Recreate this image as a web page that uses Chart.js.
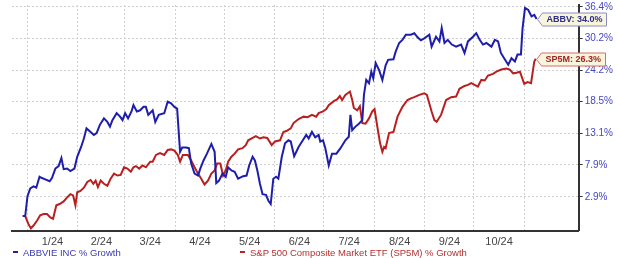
<!DOCTYPE html>
<html><head><meta charset="utf-8">
<script src="https://cdn.jsdelivr.net/npm/chart.js@4.4.1/dist/chart.umd.min.js"></script>
<style>
html,body{margin:0;padding:0;background:#fff;}
#wrap{position:relative;width:620px;height:258px;overflow:hidden;}
#legend{position:absolute;left:0;top:247px;width:620px;height:12px;font:9.5px "Liberation Sans",Arial,sans-serif;line-height:12px;}
.li{position:absolute;top:0;white-space:nowrap;}
.dash{display:inline-block;width:5px;height:2px;vertical-align:middle;margin-right:5px;position:relative;top:-1px;}
</style></head><body>
<div id="wrap"><canvas id="c" width="620" height="258"></canvas>
<div id="legend">
 <div class="li" style="left:13px;color:#3a3ab4"><span class="dash" style="background:#2020aa"></span>ABBVIE INC % Growth</div>
 <div class="li" style="left:240px;color:#b43030"><span class="dash" style="background:#bb2222"></span>S&amp;P 500 Composite Market ETF (SP5M) % Growth</div>
</div></div>
<script>
// x values: days since 2024-01-01 ; y values: % growth since start
const abbvDays = [-2.7,-1.2,0.2,1.9,3.9,5.6,7.6,9.1,11.1,13.8,15.2,17.3,19.3,21.0,22.4,24.5,26.5,29.0,30.7,33.1,34.8,36.4,38.9,40.9,42.6,44.6,47.1,49.2,50.8,52.3,54.9,57.0,58.5,60.1,61.9,64.0,65.2,67.3,69.3,71.4,72.8,74.3,77.0,78.6,80.7,84.1,86.2,88.3,90.3,92.0,93.8,95.1,97.5,99.2,100.6,102.7,104.8,106.2,108.2,110.3,113.0,115.0,116.0,117.7,119.8,121.8,123.3,125.3,127.3,129.4,132.5,134.6,136.2,138.3,139.7,141.2,142.8,144.4,146.5,148.0,149.4,151.0,152.7,154.1,156.2,158.2,160.3,161.7,163.8,166.5,169.1,171.2,172.7,174.7,176.7,178.8,179.8,181.5,182.9,185.0,187.0,189.7,192.2,195.2,197.3,198.3,199.4,201.4,203.5,205.6,206.6,208.0,209.7,211.1,212.3,213.8,215.9,217.9,219.9,221.4,224.7,226.1,228.2,230.2,232.3,235.4,237.5,239.5,241.5,243.6,246.7,248.1,250.8,252.9,254.3,256.0,258.0,260.5,263.1,266.2,268.3,270.4,273.5,275.5,277.6,279.6,281.7,284.8,286.9,288.9,290.6,292.6,295.1,297.1,299.2,300.8,302.9,303.9,305.4,307.4,309.4,311.1,312.5];
const abbvGrowth = [0,0,3.0,4.2,4.5,4.3,6.0,5.8,5.6,5.3,5.8,7.3,7.7,9.0,7.2,7.3,6.9,7.3,9.2,10.8,12.2,13.9,13.3,12.8,13.1,14.5,15.6,15.0,14.2,15.3,16.5,15.9,15.3,16.5,15.6,16.8,17.9,16.8,17.0,17.6,17.6,16.2,17.0,15.0,16.2,16.5,18.5,18.2,17.6,17.3,10.0,10.7,10.7,10.6,8.1,6.5,6.2,7.3,8.6,9.7,11.3,10.0,5.0,5.4,6.5,6.0,7.5,7.0,6.8,5.7,6.1,6.2,7.8,9.2,8.6,7.0,4.9,3.3,3.2,2.3,1.8,5.7,6.0,5.7,9.2,11.4,11.9,11.7,9.3,10.8,11.9,12.8,12.2,13.3,12.4,12.8,11.7,11.9,10.6,7.8,9.7,9.7,10.6,11.9,12.5,16.2,13.6,14.2,14.7,15.3,19.7,22.4,21.8,23.9,22.7,25.5,24.2,22.4,25.1,26.1,26.2,27.7,29.3,29.9,30.9,30.9,31.2,30.4,29.8,30.2,30.9,28.6,30.5,29.6,32.2,29.3,29.9,29.0,28.6,29.0,27.4,29.6,30.5,31.2,29.9,29.0,29.3,28.6,29.9,29.6,27.4,26.4,25.2,26.4,25.8,27.1,27.1,32.2,36.2,35.8,34.5,34.8,34.0];
const sp5mDays = [-2.7,-1.2,0.8,2.3,3.9,6.0,8.0,10.1,12.2,14.2,15.9,17.9,19.9,22.4,24.5,26.5,28.2,29.6,30.7,32.7,34.8,36.9,38.9,40.6,42.0,43.4,45.1,47.1,49.2,51.2,53.3,55.4,57.4,59.4,61.5,63.6,65.2,66.7,68.7,70.8,72.8,75.5,77.0,79.0,81.5,84.1,86.2,88.3,90.3,92.4,93.8,95.5,98.6,100.6,102.7,104.8,106.8,108.8,110.9,113.0,115.0,116.5,118.5,120.2,121.8,123.3,125.3,127.3,129.4,132.1,134.1,135.6,138.3,140.3,142.8,144.9,147.3,150.0,152.0,155.1,157.2,159.3,161.7,163.4,166.5,169.6,172.0,174.7,177.3,178.8,181.5,183.5,185.0,188.1,190.1,191.8,193.2,195.2,198.0,199.4,200.4,202.5,204.1,205.6,207.6,209.7,211.7,213.1,214.8,216.5,217.9,219.0,219.9,222.0,224.7,227.2,230.2,233.3,235.4,237.5,240.6,243.6,245.2,246.7,248.1,249.8,251.2,253.9,257.0,260.1,263.1,265.2,268.3,270.4,272.4,274.5,276.5,278.6,280.7,282.7,285.8,287.8,290.9,294.0,296.1,298.1,300.2,302.3,304.9,307.0,309.1,311.1,312.0];
const sp5mGrowth = [0,0,-1.2,-1.8,-1.4,-0.7,0.1,0.3,0.3,-0.2,-0.4,1.6,1.8,2.2,2.8,3.3,3.1,1.6,3.6,3.8,4.3,5.2,5.5,4.9,5.4,4.4,5.4,4.9,4.6,5.7,6.5,6.2,6.3,7.5,7.3,6.8,7.5,7.7,7.3,7.8,7.5,8.4,8.4,9.5,9.8,9.5,10.3,10.4,10.2,9.5,8.4,9.5,9.5,8.6,7.5,6.5,5.7,4.8,5.4,6.5,7.0,8.1,8.1,6.2,7.0,8.4,9.2,9.7,10.4,10.6,11.1,11.9,12.3,12.6,12.2,12.4,12.3,11.1,11.7,11.9,13.3,13.5,13.9,14.8,15.5,15.9,15.8,16.2,15.9,16.5,16.8,17.2,17.9,18.6,18.9,19.5,18.8,19.7,20.3,18.8,17.4,17.0,17.7,14.8,14.7,15.6,16.8,17.2,14.2,11.4,10.0,10.8,10.6,13.1,13.3,15.9,17.6,18.8,19.1,19.3,19.7,20.0,19.7,18.2,16.8,15.3,15.0,16.2,18.8,19.3,19.4,20.8,21.3,21.5,21.8,21.5,21.2,22.4,22.3,23.2,23.5,23.9,24.3,24.5,24.3,23.6,23.7,23.9,21.7,22.0,21.8,25.8,26.3];
const monthStartDays = [0,31,60,91,121,152,182,213,244,274,305];
const monthLabels = ['1/24','2/24','3/24','4/24','5/24','6/24','7/24','8/24','9/24','10/24'];
const yTickPct = [2.9,7.9,13.1,18.5,24.2,30.2,36.4];
const seriesNames = ['ABBV','SP5M'];

const X_MIN = -9.3, X_MAX = 338.3;
const Y_MIN_PCT = -2.17, Y_MAX_PCT = 36.8;
const L = p => Math.log(1 + p/100);
const FONT = '"Liberation Sans", Arial, sans-serif';

const xTicks = [];
monthStartDays.forEach((d,i)=>{
  xTicks.push({value:d, ms:true, lab:''});
  if (i < monthLabels.length) xTicks.push({value:(d+monthStartDays[i+1])/2, ms:false, lab:monthLabels[i]});
});

const tagPlugin = {
  id:'tags',
  afterDatasetsDraw(chart){
    const ctx = chart.ctx, xs = chart.scales.x, ys = chart.scales.y;
    const styles = [
      {border:'#8c8cc8', text:'#2c2c8c'},
      {border:'#d07070', text:'#a02424'}
    ];
    chart.data.datasets.forEach((ds,i)=>{
      const last = ds.data[ds.data.length-1];
      const pct = (Math.exp(last.y)-1)*100;
      const tx = Math.round(xs.getPixelForValue(last.x)) + 0.5;
      const ty = Math.round(ys.getPixelForValue(last.y)) + 0.5;
      const h = 13, aw = 5, bw = 64;
      ctx.save();
      ctx.beginPath();
      ctx.moveTo(tx, ty);
      ctx.lineTo(tx+aw, ty-h/2);
      ctx.lineTo(tx+aw+bw, ty-h/2);
      ctx.lineTo(tx+aw+bw, ty+h/2);
      ctx.lineTo(tx+aw, ty+h/2);
      ctx.closePath();
      ctx.fillStyle = '#f8f5dc';
      ctx.fill();
      ctx.lineWidth = 1;
      ctx.strokeStyle = styles[i].border;
      ctx.stroke();
      ctx.fillStyle = styles[i].text;
      ctx.font = 'bold 9px ' + FONT;
      ctx.textBaseline = 'middle';
      ctx.textAlign = 'left';
      ctx.fillText(seriesNames[i] + ': ' + pct.toFixed(1) + '%', tx+aw+4, ty+0.5);
      ctx.restore();
    });
  }
};

new Chart(document.getElementById('c'), {
  type:'line',
  data:{
    datasets:[
      {label:'ABBVIE INC % Growth', data: abbvDays.map((d,i)=>({x:d, y:L(abbvGrowth[i])})),
       borderColor:'#1e1eaa', borderWidth:2, pointRadius:0, tension:0, fill:false},
      {label:'S&P 500 Composite Market ETF (SP5M) % Growth', data: sp5mDays.map((d,i)=>({x:d, y:L(sp5mGrowth[i])})),
       borderColor:'#b82020', borderWidth:2, pointRadius:0, tension:0, fill:false}
    ]
  },
  options:{
    responsive:false, animation:false, devicePixelRatio:1,
    layout:{padding:{left:12, top:5, right:5, bottom:4}},
    plugins:{legend:{display:false}, tooltip:{enabled:false}},
    scales:{
      x:{
        type:'linear', min:X_MIN, max:X_MAX,
        afterBuildTicks: s => { s.ticks = xTicks.map(t=>({value:t.value, ms:t.ms, lab:t.lab})); },
        afterFit: s => { s.paddingLeft = 0; s.paddingRight = 0; },
        grid:{ color: c => (c.tick && c.tick.ms) ? '#cfcfcf' : 'rgba(0,0,0,0)', drawTicks:false, lineWidth:1 },
        border:{ color:'#333', width:2, dash:[2,2] },
        ticks:{ autoSkip:false, maxRotation:0, padding:5, color:'#444', font:{family:FONT, size:11},
          callback:(v,i)=> xTicks[i] ? xTicks[i].lab : '' }
      },
      y:{
        type:'linear', position:'right', min:L(Y_MIN_PCT), max:L(Y_MAX_PCT),
        afterBuildTicks: s => { s.ticks = yTickPct.map(p=>({value:L(p)})); },
        afterFit: s => { s.paddingTop = 0; s.paddingBottom = 0; },
        grid:{ color:'#cfcfcf', lineWidth:1, drawTicks:true, tickLength:4, tickColor:'#333', tickWidth:1 },
        border:{ color:'#333', width:2, dash:[2,2] },
        ticks:{ padding:2, color:'#4646c0', font:{family:FONT, size:10},
          callback:(v,i)=> yTickPct[i].toFixed(1) + '%' }
      }
    }
  },
  plugins:[tagPlugin]
});
</script>
</body></html>
